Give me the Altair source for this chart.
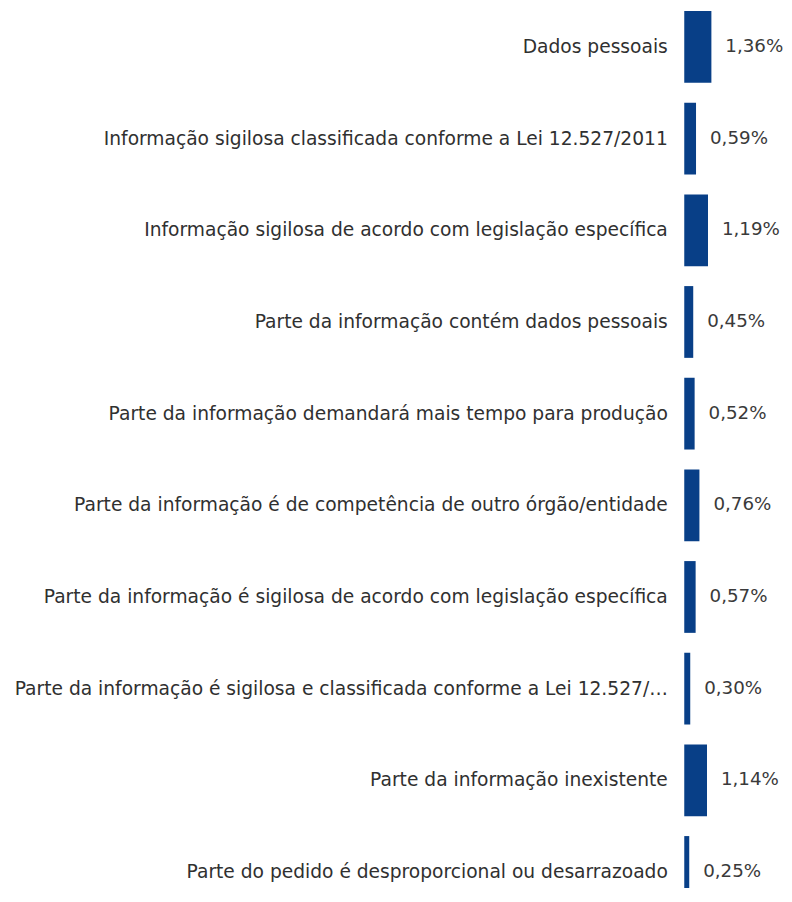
import altair as alt
import pandas as pd

categories = [
    "Dados pessoais",
    "Informação sigilosa classificada conforme a Lei 12.527/2011",
    "Informação sigilosa de acordo com legislação específica",
    "Parte da informação contém dados pessoais",
    "Parte da informação demandará mais tempo para produção",
    "Parte da informação é de competência de outro órgão/entidade",
    "Parte da informação é sigilosa de acordo com legislação específica",
    "Parte da informação é sigilosa e classificada conforme a Lei 12.527/…",
    "Parte da informação inexistente",
    "Parte do pedido é desproporcional ou desarrazoado",
]
values = [1.36, 0.59, 1.19, 0.45, 0.52, 0.76, 0.57, 0.30, 1.14, 0.25]

df = pd.DataFrame({"cat": categories, "v": values})

FONT = "DejaVu Sans"

y = alt.Y(
    "cat:N",
    sort=categories,
    title=None,
    scale=alt.Scale(range=[-8, 911], paddingInner=0.217, paddingOuter=0.1085),
    axis=alt.Axis(
        domain=False,
        ticks=False,
        labelPadding=17,
        labelLimit=700,
        labelFont=FONT,
        labelFontSize=18.7,
        labelColor="#303030",
    ),
)
x = alt.X("v:Q", title=None, axis=None, scale=alt.Scale(domain=[0, 5]))

bars = alt.Chart(df).mark_bar(color="#083F87").encode(x=x, y=y)
text = (
    alt.Chart(df)
    .transform_calculate(lab="replace(format(datum.v, '.2f'), '.', ',') + '%'")
    .mark_text(align="left", baseline="middle", dx=14, font=FONT, fontSize=18.3, color="#3a3a3a")
    .encode(x=x, y=y, text="lab:N")
)

chart = (
    alt.layer(bars, text)
    .properties(
        width=100,
        height=880,
        autosize=alt.AutoSizeParams(type="none"),
        padding={"left": 678, "top": 0, "right": 0, "bottom": 0},
    )
    .configure_view(stroke=None)
)

chart.save("out.html", embed_options={"renderer": "svg", "actions": False})
